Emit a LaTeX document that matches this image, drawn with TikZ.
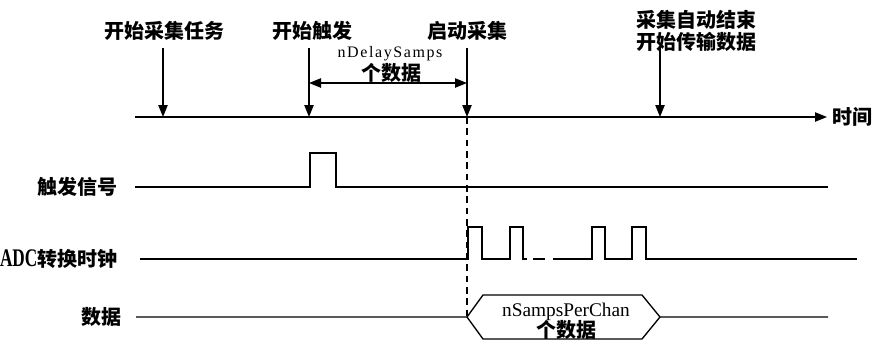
\documentclass[tikz,border=0pt]{standalone}
\usepackage{fontspec}
\setmainfont{Liberation Serif}
\newfontfamily\cjk{Noto Sans CJK SC}
\usetikzlibrary{arrows.meta}
\begin{document}
\begin{tikzpicture}[x=0.75pt,y=-0.75pt,line width=1pt,
  evt/.style={-{Triangle[length=9pt,width=7pt]}},
  both/.style={{Triangle[length=9pt,width=7pt]}-{Triangle[length=9pt,width=7pt]}},
  zh/.style={font=\cjk\bfseries\fontsize{15}{16}\selectfont,inner sep=0pt},
  en/.style={font=\fontsize{14.3}{16}\selectfont,inner sep=0pt,anchor=base},
  lbl/.style={zh,anchor=east}]
\useasboundingbox (0,0) rectangle (872,340);

\coordinate (t0) at (135,117);
\coordinate (t1) at (827,117);
\coordinate (start) at (163,117);
\coordinate (trig) at (309,117);
\coordinate (acq) at (467,117);
\coordinate (stop) at (660,117);
\coordinate (lvl) at (0,48);
\coordinate (gap) at (0,83);

\draw[evt] (t0) -- (t1);
\node[zh,anchor=west] (time) at (832,117) {时间};

\node[zh] (task) at (164,31) {开始采集任务};
\node[zh] (trigtxt) at (312,31) {开始触发};
\node[zh] (acqtxt) at (467,31) {启动采集};
\node[zh,align=center] (done) at (696,31) {采集自动结束\\[1pt]开始传输数据};

\draw[evt] (start |- lvl) -- (start);
\draw[evt] (trig |- lvl) -- (trig);
\draw[evt] (acq |- lvl) -- (acq);
\draw[evt] (stop |- lvl) -- (stop);

\draw[both] (trig |- gap) -- (acq |- gap);
\node[en,font=\addfontfeatures{LetterSpace=10}\fontsize{12}{14}\selectfont] (delay) at (390,57.5) {nDelaySamps};
\node[zh] (delaynum) at (391,73) {个数据};

\node[lbl] (trigsig) at (118,187) {触发信号};
\node[lbl] (clk) at (118,259) {\scalebox{0.68}[1]{\fontspec{Liberation Serif}\bfseries\fontsize{19}{20}\selectfont ADC}转换时钟};
\node[lbl] (data) at (122,317) {数据};

\draw (135,187) -- (310,187) -- (310,153) -- (336,153) -- (336,187) -- (828,187);

\draw (140,259) -- (468,259) -- (468,227) -- (482,227) -- (482,259) -- (510,259)
  -- (510,227) -- (523,227) -- (523,259) -- (527,259);
\draw (533,259) -- (545,259);
\draw (553,259) -- (592,259) -- (592,227) -- (605,227) -- (605,259) -- (632,259)
  -- (632,227) -- (646,227) -- (646,259) -- (857,259);

\coordinate (d0) at (467,317);
\draw (136,317) -- (d0) -- (483,295) -- (642,295) -- (660,317) -- (828,317);
\draw (d0) -- (483,339) -- (642,339) -- (660,317);
\node[en,font=\fontsize{14.5}{16}\selectfont] (samps) at (566,316.5) {nSampsPerChan};
\node[zh] (sampsnum) at (566,329.5) {个数据};

\draw[dashed,dash pattern=on 5pt off 3.5pt] (acq) -- (d0);
\end{tikzpicture}
\end{document}
